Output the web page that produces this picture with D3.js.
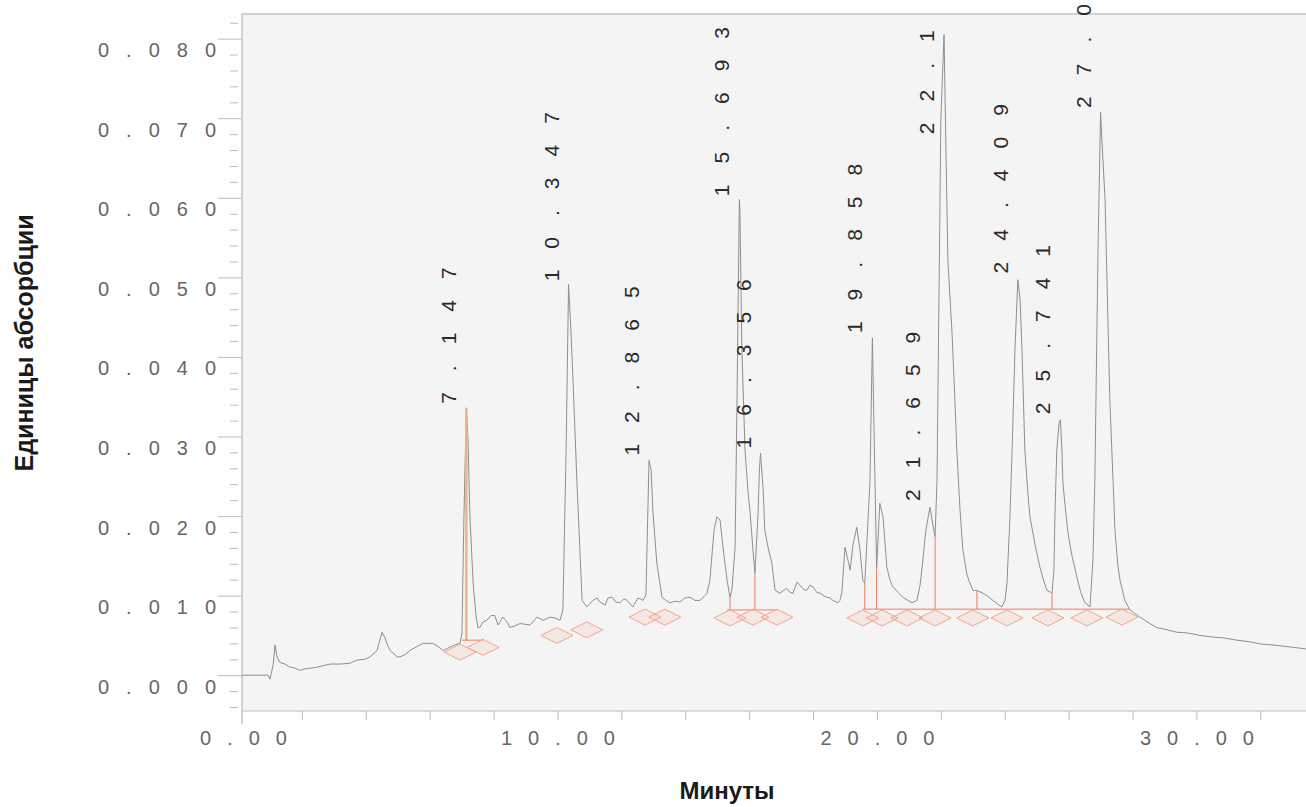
<html>
<head>
<meta http-equiv="Content-Type" content="text/html; charset=UTF-8">
<title>Хроматограмма</title>
<style>
	body { margin: 0; background: #ffffff; }
	svg { display: block; font-family: "Liberation Sans", Arial, sans-serif; }
	.trace { fill: none; stroke: #8e8e8e; stroke-width: 1; }
	.tick line { stroke: #bdbdbd; }
	.tick text { fill: #666666; font-size: 20px; }
	.peak_label { fill: #2a2a2a; font-size: 21px; letter-spacing: 21px; }
	.axis_title { fill: #1a1a1a; font-weight: bold; }
</style>
</head>
<body>
<script src="https://cdnjs.cloudflare.com/ajax/libs/d3/7.8.5/d3.min.js"></script>
<script>

	// chromatogram trace: [minutes, absorbance units]
	var trace = [
		[0.12,0.0000],[0.94,0.0000],[1.00,-0.0005],[1.10,0.0013],[1.16,0.0038],[1.22,0.0023],
		[1.31,0.0016],[1.47,0.0014],[1.63,0.0010],[1.78,0.0009],[1.94,0.0006],[2.10,0.0008],
		[2.32,0.0009],[2.57,0.0011],[2.88,0.0014],[3.19,0.0014],[3.51,0.0015],[3.72,0.0019],
		[3.97,0.0020],[4.13,0.0023],[4.35,0.0031],[4.51,0.0054],[4.60,0.0047],[4.66,0.0040],
		[4.76,0.0031],[4.85,0.0028],[4.98,0.0023],[5.07,0.0023],[5.23,0.0026],[5.38,0.0031],
		[5.60,0.0036],[5.79,0.0040],[6.10,0.0040],[6.26,0.0036],[6.42,0.0031],[6.57,0.0034],
		[6.79,0.0038],[6.95,0.0040],[7.01,0.0053],[7.07,0.0195],[7.147,0.0336],[7.20,0.0296],
		[7.26,0.0199],[7.36,0.0116],[7.45,0.0075],[7.51,0.0060],[7.57,0.0060],[7.67,0.0067],
		[7.79,0.0069],[7.92,0.0075],[8.04,0.0075],[8.14,0.0063],[8.29,0.0073],[8.42,0.0067],
		[8.51,0.0060],[8.67,0.0062],[8.83,0.0065],[8.98,0.0064],[9.14,0.0063],[9.36,0.0073],
		[9.55,0.0069],[9.77,0.0073],[9.92,0.0072],[10.08,0.0069],[10.17,0.0082],[10.27,0.0283],
		[10.347,0.0491],[10.42,0.0434],[10.49,0.0367],[10.61,0.0242],[10.77,0.0094],[10.92,0.0086],
		[11.11,0.0094],[11.24,0.0097],[11.33,0.0092],[11.49,0.0088],[11.58,0.0097],[11.71,0.0098],
		[11.83,0.0092],[11.96,0.0091],[12.08,0.0096],[12.18,0.0094],[12.36,0.0086],[12.52,0.0097],
		[12.68,0.0094],[12.77,0.0101],[12.865,0.0270],[12.93,0.0258],[12.99,0.0204],[13.11,0.0141],
		[13.27,0.0098],[13.40,0.0094],[13.52,0.0091],[13.68,0.0093],[13.83,0.0092],[13.99,0.0097],
		[14.15,0.0098],[14.30,0.0094],[14.46,0.0094],[14.59,0.0099],[14.68,0.0103],[14.77,0.0119],
		[14.90,0.0182],[14.99,0.0199],[15.09,0.0195],[15.18,0.0161],[15.31,0.0119],[15.40,0.0098],
		[15.46,0.0107],[15.56,0.0161],[15.62,0.0346],[15.693,0.0598],[15.71,0.0585],[15.77,0.0413],
		[15.87,0.0283],[15.96,0.0233],[16.03,0.0204],[16.12,0.0157],[16.18,0.0128],[16.28,0.0204],
		[16.32,0.0258],[16.356,0.0279],[16.44,0.0233],[16.49,0.0182],[16.59,0.0161],[16.71,0.0141],
		[16.81,0.0107],[16.96,0.0103],[17.09,0.0107],[17.18,0.0109],[17.28,0.0104],[17.37,0.0103],
		[17.50,0.0117],[17.59,0.0113],[17.72,0.0107],[17.81,0.0107],[17.90,0.0113],[18.00,0.0111],
		[18.12,0.0104],[18.22,0.0103],[18.37,0.0099],[18.53,0.0097],[18.62,0.0094],[18.78,0.0091],
		[18.84,0.0094],[18.90,0.0103],[19.00,0.0161],[19.09,0.0145],[19.16,0.0132],[19.25,0.0164],
		[19.37,0.0186],[19.47,0.0157],[19.56,0.0119],[19.62,0.0116],[19.72,0.0195],[19.78,0.0242],
		[19.858,0.0424],[19.92,0.0283],[19.99,0.0135],[20.09,0.0216],[20.19,0.0199],[20.31,0.0136],
		[20.41,0.0119],[20.50,0.0111],[20.66,0.0104],[20.81,0.0098],[20.97,0.0094],[21.10,0.0091],
		[21.25,0.0094],[21.35,0.0113],[21.44,0.0145],[21.53,0.0182],[21.659,0.0211],[21.75,0.0189],
		[21.82,0.0174],[21.88,0.0245],[21.94,0.0472],[22.00,0.0698],[22.10,0.0805],[22.16,0.0660],
		[22.22,0.0522],[22.35,0.0430],[22.44,0.0346],[22.50,0.0283],[22.60,0.0208],[22.69,0.0157],
		[22.82,0.0126],[22.91,0.0116],[23.00,0.0107],[23.16,0.0106],[23.32,0.0103],[23.47,0.0099],
		[23.63,0.0094],[23.79,0.0089],[23.91,0.0086],[24.01,0.0094],[24.07,0.0116],[24.16,0.0195],
		[24.23,0.0283],[24.32,0.0409],[24.409,0.0497],[24.48,0.0472],[24.54,0.0409],[24.63,0.0283],
		[24.73,0.0226],[24.79,0.0199],[24.95,0.0164],[25.10,0.0136],[25.23,0.0117],[25.32,0.0107],
		[25.48,0.0103],[25.54,0.0132],[25.57,0.0199],[25.63,0.0283],[25.70,0.0317],[25.741,0.0321],
		[25.79,0.0283],[25.82,0.0242],[25.92,0.0201],[25.98,0.0179],[26.10,0.0151],[26.26,0.0123],
		[26.38,0.0104],[26.51,0.0091],[26.67,0.0086],[26.76,0.0145],[26.82,0.0242],[26.92,0.0535],
		[27.00,0.0708],[27.04,0.0673],[27.14,0.0598],[27.23,0.0447],[27.29,0.0346],[27.39,0.0245],
		[27.45,0.0182],[27.54,0.0138],[27.61,0.0119],[27.76,0.0094],[27.92,0.0082],[28.23,0.0073],
		[28.54,0.0065],[28.76,0.0060],[29.08,0.0057],[29.39,0.0054],[29.73,0.0053],[30.11,0.0050],
		[30.49,0.0048],[30.83,0.0047],[31.27,0.0044],[31.67,0.0042],[32.05,0.0039],[32.39,0.0038],
		[32.83,0.0036],[33.24,0.0034],[33.43,0.0033]
	];

	// peak labels (retention time text) and the level where each label starts
	var peakTimes   = [7.147, 10.347, 12.865, 15.693, 16.356, 19.858, 21.659, 22.10, 24.409, 25.741, 27.00];
	var peakLabels  = ["7.147", "10.347", "12.865", "15.693", "16.356", "19.858", "21.659", "22.1", "24.409", "25.741", "27.0"];
	var labelLevels = [0.0341, 0.0495, 0.0276, 0.0602, 0.0285, 0.0430, 0.0219, 0.0680, 0.0505, 0.0328, 0.0713];

	// integration baselines
	var baseStart = [7.01, 15.31, 19.56];
	var baseEnd   = [7.67, 16.87, 27.92];
	var baseLevel = [0.0044, 0.0082, 0.0083];

	// drop lines (time, level of baseline they start from)
	var dropTimes  = [7.147, 15.40, 16.18, 19.62, 19.99, 21.82, 23.13, 25.48];
	var dropLevels = [0.0044, 0.0082, 0.0082, 0.0083, 0.0083, 0.0083, 0.0083, 0.0083];

	// peak start/end markers
	var markTimes  = [6.95, 7.67, 9.98, 10.92, 12.74, 13.36, 15.40, 16.12, 16.87, 19.56, 20.16,
	                  20.94, 21.82, 23.00, 24.07, 25.35, 26.57, 27.67];
	var markLevels = [0.0029, 0.0035, 0.0050, 0.0057, 0.0073, 0.0073, 0.0072, 0.0073, 0.0073, 0.0072, 0.0072,
	                  0.0072, 0.0072, 0.0072, 0.0072, 0.0072, 0.0072, 0.0073];

	var yTicks = [0, 0.01, 0.02, 0.03, 0.04, 0.05, 0.06, 0.07, 0.08];
	var xTicks = [0, 10, 20, 30];
	var xTitle = "Минуты";
	var yTitle = "Единицы абсорбции";

	var width = 1306, height = 807;
	var plotLeft = 242, plotTop = 14, plotBottom = 711;

	var svg = d3.select("body").append("svg")
		.attr("width", width)
		.attr("height", height);

	var x = d3.scaleLinear().domain([0, 33.43]).range([238, width]);
	var y = d3.scaleLinear().domain([-0.0045, 0.0831]).range([plotBottom, plotTop]);

	// plot background + frame
	svg.append("rect")
		.attr("x", plotLeft).attr("y", plotTop)
		.attr("width", width - plotLeft).attr("height", plotBottom - plotTop)
		.attr("fill", "#f4f4f4");
	svg.append("path")
		.attr("d", "M" + width + "," + plotTop + "H" + plotLeft + "V" + (plotBottom + 13))
		.attr("fill", "none").attr("stroke", "#c4c4c4").attr("stroke-width", 1.5);
	svg.append("line")
		.attr("x1", plotLeft).attr("x2", width).attr("y1", plotBottom).attr("y2", plotBottom)
		.attr("stroke", "#d0d0d0").attr("stroke-width", 1.5);

	// y axis
	var yAxis = svg.append("g")
		.attr("transform", "translate(" + plotLeft + ",0)")
		.call(d3.axisLeft(y).tickValues(yTicks).tickSize(24).tickFormat(d3.format(".3f")));
	yAxis.select(".domain").remove();
	yAxis.selectAll(".tick text")
		.attr("text-anchor", "start")
		.attr("x", -144)
		.attr("dy", 18)
		.style("letter-spacing", "17px");

	var yMinor = d3.range(-0.004, 0.0825, 0.002).filter(function (v) {
		return Math.abs(Math.round(v * 100) - v * 100) > 0.01;
	});
	var yMinorAxis = svg.append("g")
		.attr("transform", "translate(" + (plotLeft - 4) + ",0)")
		.call(d3.axisLeft(y).tickValues(yMinor).tickSize(8).tickFormat(""));
	yMinorAxis.select(".domain").remove();
	yMinorAxis.selectAll(".tick line").attr("stroke", "#d8d8d8");

	// x axis
	var xAxis = svg.append("g")
		.attr("transform", "translate(0," + plotBottom + ")")
		.call(d3.axisBottom(x).tickValues(d3.range(2, 34, 2)).tickSize(9).tickFormat(""));
	xAxis.select(".domain").remove();
	xAxis.selectAll(".tick line").attr("stroke", "#e2e2e2");

	var xLabels = svg.append("g")
		.attr("transform", "translate(0," + plotBottom + ")")
		.call(d3.axisBottom(x).tickValues(xTicks).tickSize(0).tickFormat(d3.format(".2f")));
	xLabels.select(".domain").remove();
	xLabels.selectAll(".tick text")
		.attr("y", 34)
		.attr("dy", 0)
		.attr("dx", function (d) { return d == 0 ? 13 : 8; })
		.style("letter-spacing", "16px");

	// chromatogram
	var line = d3.line()
		.x(function (d) { return x(d[0]); })
		.y(function (d) { return y(d[1]); });

	svg.append("path")
		.datum(trace)
		.attr("class", "trace")
		.attr("d", line);

	// integration marks
	var bisect = d3.bisector(function (d) { return d[0]; }).left;
	function valueAt(t) {
		var i = bisect(trace, t);
		if (i <= 0) return trace[0][1];
		var a = trace[i - 1], b = trace[i];
		return a[1] + (b[1] - a[1]) * (t - a[0]) / (b[0] - a[0]);
	}

	var marks = svg.append("g");

	marks.selectAll(".drop")
		.data(dropTimes)
		.enter().append("line")
		.attr("class", "drop")
		.attr("x1", function (d) { return x(d); })
		.attr("x2", function (d) { return x(d); })
		.attr("y1", function (d, i) { return y(dropLevels[i]); })
		.attr("y2", function (d) { return y(valueAt(d)); })
		.attr("stroke", function (d, i) { return i == 0 ? "#f2b08f" : "#f07a5c"; })
		.attr("stroke-width", function (d, i) { return i == 0 ? 2.5 : 1; });

	marks.selectAll(".base")
		.data(baseStart)
		.enter().append("line")
		.attr("class", "base")
		.attr("x1", function (d) { return x(d); })
		.attr("x2", function (d, i) { return x(baseEnd[i]); })
		.attr("y1", function (d, i) { return y(baseLevel[i]); })
		.attr("y2", function (d, i) { return y(baseLevel[i]); })
		.attr("stroke", "#f07a5c")
		.attr("stroke-width", 1);

	marks.selectAll(".diamond")
		.data(markTimes)
		.enter().append("path")
		.attr("class", "diamond")
		.attr("transform", function (d, i) {
			return "translate(" + x(d) + "," + y(markLevels[i]) + ")";
		})
		.attr("d", "M-16,0L0,-8L16,0L0,8Z")
		.attr("fill", "rgba(250,180,160,0.2)")
		.attr("stroke", "#f3a58f")
		.attr("stroke-width", 1);

	// peak labels
	svg.selectAll(".peak_label")
		.data(peakTimes)
		.enter().append("text")
		.attr("class", "peak_label")
		.attr("transform", function (d, i) {
			return "translate(" + (x(d) - 10) + "," + y(labelLevels[i]) + ") rotate(-90)";
		})
		.text(function (d, i) { return peakLabels[i]; });

	// axis titles
	svg.append("text")
		.attr("class", "axis_title")
		.attr("transform", "translate(33,343) rotate(-90)")
		.attr("text-anchor", "middle")
		.style("font-size", "25px")
		.text(yTitle);

	svg.append("text")
		.attr("class", "axis_title")
		.attr("x", 727)
		.attr("y", 799)
		.attr("text-anchor", "middle")
		.style("font-size", "24px")
		.text(xTitle);

</script>
</body>
</html>
